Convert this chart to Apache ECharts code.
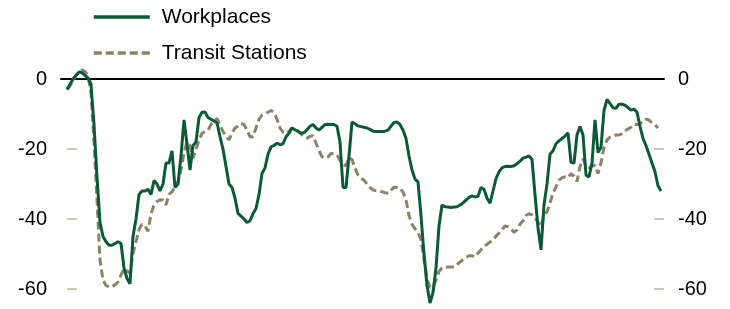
<!DOCTYPE html>
<html>
<head>
<meta charset="utf-8">
<script src="https://cdn.jsdelivr.net/npm/echarts@6/dist/echarts.min.js"></script>
<style>
  html, body { margin: 0; padding: 0; background: #fff; }
  #main { width: 730px; height: 309px; }
</style>
</head>
<body>
<div id="main"></div>
<script>
// values sampled every few days, index 0 = first observation
var workplaces = [
  -3, -1.5, 0, 1, 2, 1.8, 1, 0.3, -1.5, -13,
  -28, -41, -45, -46.5, -47.5, -47.5, -47, -46.5, -47, -54,
  -57, -58.5, -45, -40, -33, -32, -32, -31.5, -33, -29,
  -30, -32, -30, -24, -24, -20.5, -31, -30, -22, -11.7,
  -18.5, -26, -19, -18, -11, -9.5, -9.4, -11, -11.5, -12,
  -12.5, -16.5, -20, -25, -30, -31, -34, -38.4, -39.2, -40,
  -41, -40.5, -38.5, -37, -33, -27, -25.4, -21.5, -19.4, -19,
  -18.3, -18.8, -18.5, -16.5, -15.5, -14, -14.5, -15, -15.5, -15.3,
  -14.5, -13.5, -13, -14, -14.6, -13.8, -13, -12.9, -13, -13,
  -13.5, -18, -31, -31, -22, -12.3, -12.8, -13.4, -13.6, -13.8,
  -14, -14.4, -14.9, -15, -15, -15, -14.9, -14.6, -13.5, -12.4,
  -12.3, -13, -14.6, -17, -22, -26, -28.6, -29.4, -39, -50,
  -59, -64, -61, -54, -42, -36, -36.5, -36.6, -36.7, -36.6,
  -36.5, -36, -35.4, -34.6, -33.8, -33.4, -33.7, -33.5, -31, -31.5,
  -34, -35.5, -32, -28.5, -26.5, -25.4, -25, -24.9, -25, -24.8,
  -24.2, -23.5, -22.6, -22.3, -22, -23, -33, -42.5, -48.8, -36,
  -30, -21.5, -20.5, -18.5, -17.7, -17, -16.3, -15.4, -23.8, -24,
  -16, -13.6, -16, -27.4, -28, -24, -11.7, -21, -19.5, -9,
  -5.8, -7, -8.2, -8.4, -7.2, -7.2, -7.5, -8.2, -8.9, -8.6,
  -9.5, -13.5, -17, -19, -21.5, -24, -26.5, -30.5, -32
];
var transit = [
  -3, -2, -0.5, 1, 2, 2.6, 2.2, 1, -4, -18,
  -34.6, -51.7, -57.4, -59, -59.4, -59.4, -58.8, -58, -56, -54.2,
  -54.8, -55.5, -49.8, -46.5, -43, -41.5, -42, -43.5, -38.5, -36,
  -35, -34.5, -34.6, -36, -33, -32.2, -31, -29.4, -26, -21,
  -18, -19, -22.6, -20, -17.5, -15.5, -15, -14.6, -13, -12,
  -11.3, -13.1, -15, -16.3, -17.4, -15.5, -14, -13.4, -12.7, -13,
  -14.6, -16.5, -16.5, -14, -11.5, -10.3, -10, -9.5, -9, -9.5,
  -11.5, -14, -15.2, -15.6, -15, -14, -14.3, -14.8, -15.7, -16.5,
  -16.9, -16.4, -16.2, -18.3, -20.5, -22.2, -22.6, -22.3, -21.3, -21.3,
  -21.7, -23.3, -24.5, -24.8, -22.5, -23, -25.5, -27.4, -28.4, -28.9,
  -30, -31, -31.7, -31.9, -32, -32.2, -32.5, -32.6, -31.8, -30.9,
  -31, -31.2, -32.3, -34.5, -39, -41.5, -42.8, -43.7, -46, -51.5,
  -57, -59.5, -59.5, -57.5, -55, -54, -53.8, -53.7, -53.7, -53.7,
  -53, -52.3, -51.6, -51, -50.5, -50.5, -50.8, -49.8, -48.8, -47.8,
  -47.2, -46.6, -46, -44.9, -44, -43, -42, -42.2, -42.8, -43.8,
  -43.1, -41.5, -40.5, -39, -38.5, -38.8, -39.6, -41, -42.2, -39,
  -38, -35.4, -32.6, -30.8, -29, -28.2, -28, -28.2, -27, -27.8,
  -29.3, -25, -22.8, -25, -25.3, -25, -24.6, -27, -24, -19.5,
  -17.4, -16.6, -16.3, -16, -16, -15.6, -14.8, -14.3, -13.8, -12.9,
  -13, -12.8, -12.1, -11.5, -11.7, -12.6, -13.1, -14
];
var yTicks = [0, -20, -40, -60];
var yMarks = [-20, -40, -60];

function toPairs(arr) {
  return arr.map(function (v, i) { return [i, v]; });
}

var myChart = echarts.init(document.getElementById('main'));

var yAxisBase = function (pos) {
  return {
    type: 'value',
    position: pos,
    min: -65,
    max: 5,
    axisLine: { show: false },
    splitLine: { show: false },
    axisTick: {
      show: true,
      inside: true,
      length: 10,
      customValues: yMarks,
      lineStyle: { color: '#cfc8b8', width: 2 }
    },
    axisLabel: {
      customValues: yTicks,
      margin: 14,
      color: '#000',
      fontSize: 20,
      fontFamily: 'Liberation Sans, Arial, sans-serif'
    }
  };
};

var option = {
  animation: false,
  grid: { left: 61, right: 66, top: 61.5, bottom: 2.5, containLabel: false },
  legend: {
    orient: 'vertical',
    left: 92,
    top: 6,
    padding: 0,
    itemWidth: 56,
    itemHeight: 14,
    itemGap: 14,
    itemStyle: { opacity: 0 },
    lineStyle: { width: 3.5 },
    data: ['Workplaces', 'Transit Stations'],
    textStyle: {
      color: '#000',
      fontSize: 21,
      lineHeight: 22,
      padding: [0, 0, 0, 7],
      fontFamily: 'Liberation Sans, Arial, sans-serif'
    }
  },
  xAxis: {
    type: 'value',
    min: -2,
    max: 199,
    axisLine: { show: true, onZero: true, lineStyle: { color: '#000', width: 2 } },
    axisTick: { show: false },
    axisLabel: { show: false },
    splitLine: { show: false }
  },
  yAxis: [yAxisBase('left'), yAxisBase('right')],
  series: [
    {
      name: 'Workplaces',
      type: 'line',
      z: 3,
      symbol: 'none',
      data: toPairs(workplaces),
      lineStyle: { color: '#0b5a36', width: 3 },
      itemStyle: { color: '#0b5a36' }
    },
    {
      name: 'Transit Stations',
      type: 'line',
      z: 2,
      symbol: 'none',
      data: toPairs(transit),
      lineStyle: { color: '#8e8266', width: 3, type: [8, 4] },
      itemStyle: { color: '#8e8266' }
    }
  ]
};

myChart.setOption(option);
</script>
</body>
</html>
